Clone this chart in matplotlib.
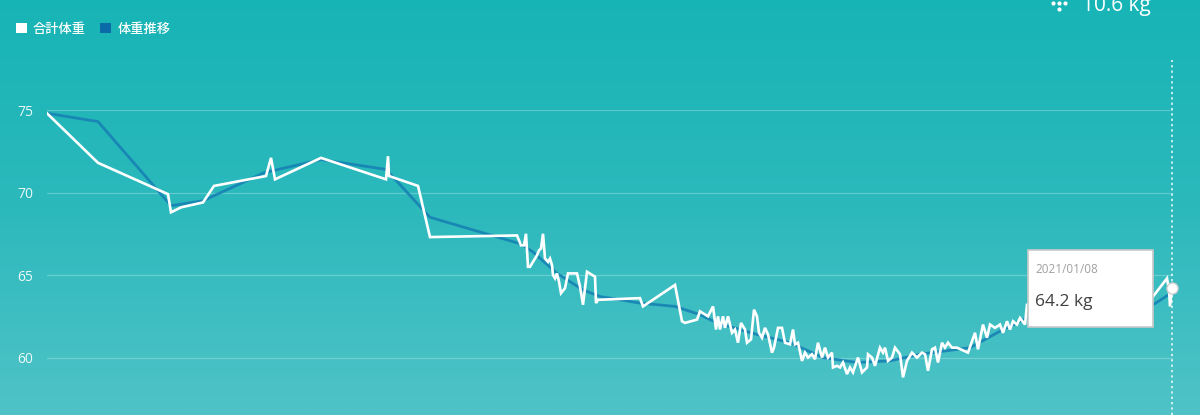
import numpy as np
import matplotlib
matplotlib.use("Agg")
import matplotlib.pyplot as plt
from matplotlib.patches import Patch, Rectangle
from matplotlib.colors import LinearSegmentedColormap

plt.rcParams['font.family'] = ['Noto Sans CJK JP', 'DejaVu Sans']

# ---------------- data ----------------
series_names = ["合計体重", "体重推移"]

# time index (measurement position along the period) and total weight (kg)
weight_t = [0, 51, 121, 124, 134, 156, 167, 219, 224, 228, 274, 339, 341, 342, 371, 383,
            470, 474, 477, 479, 481, 483, 490, 492, 494, 496, 498, 501, 503, 505, 506, 508,
            510, 512, 514, 518, 521, 530, 533, 536, 540, 548, 549, 551, 593, 596, 628, 635,
            638, 650, 653,
            661, 666, 669, 671, 673, 676, 678, 681, 685, 688, 691, 694, 698, 700, 704, 707,
            710, 712, 715, 718, 721, 725, 727, 731, 735, 738, 743, 746, 748, 751, 755, 758,
            761, 765, 768, 771, 775, 778, 781, 785, 786, 790, 793, 796, 800, 803, 806, 811,
            815, 820, 821, 825, 828, 833, 836, 838, 841, 845, 848, 853,
            856, 860, 865, 870, 875, 878, 881, 885, 888, 891, 895, 898, 901, 905, 910, 921,
            928, 931, 936, 940, 943, 948, 953, 956, 960, 963, 966, 970, 973, 978, 980, 1043,
            1106, 1120, 1122, 1123, 1125]
weight_kg = [74.8, 71.8, 69.9, 68.8, 69.1, 69.4, 70.4, 71.0, 72.1, 70.8, 72.1, 70.8, 72.2, 71.0, 70.4, 67.3,
             67.4, 66.8, 66.8, 67.5, 65.5, 65.5, 66.2, 66.5, 66.6, 67.5, 66.0, 65.8, 66.0, 65.6, 65.0, 64.8,
             65.1, 64.6, 63.9, 64.2, 65.1, 65.1, 64.3, 63.2, 65.2, 64.9, 63.3, 63.5, 63.6, 63.1, 64.4, 62.2,
             62.1, 62.3, 62.8,
             62.5, 63.1, 61.7, 62.5, 61.7, 62.5, 61.8, 62.5, 61.5, 61.7, 60.9, 62.1, 61.7, 60.9, 61.1, 62.9,
             62.5, 61.5, 61.2, 61.8, 61.4, 60.3, 60.6, 61.8, 61.8, 60.9, 60.8, 61.7, 60.8, 60.9, 59.8, 60.3,
             60.0, 60.2, 59.9, 60.9, 60.0, 60.6, 60.0, 60.3, 59.4, 59.5, 59.4, 59.7, 59.0, 59.4, 59.1, 60.0,
             59.1, 59.4, 60.2, 60.0, 59.5, 60.6, 60.3, 60.6, 59.8, 60.0, 60.6, 60.2,
             58.8, 59.8, 60.3, 60.0, 60.3, 60.2, 59.2, 60.5, 60.6, 59.7, 60.9, 60.6, 60.9, 60.6, 60.6, 60.3,
             61.5, 60.5, 62.0, 61.2, 62.0, 61.8, 62.0, 61.5, 62.2, 61.7, 62.2, 62.0, 62.4, 62.0, 63.2, 63.5,
             63.7, 64.8, 64.1, 63.1, 64.2]

# weight trend (体重推移)
trend_t = [0, 51, 124, 156, 217, 274, 339, 383, 473, 486, 510, 536, 553, 593, 628, 653, 670,
           710, 743, 776, 810, 843, 873, 923, 956, 980, 1106, 1124]
trend_kg = [74.8, 74.3, 69.2, 69.5, 71.2, 72.0, 71.4, 68.5, 66.9, 66.4, 65.1, 64.1, 63.7, 63.3,
            63.1, 62.6, 62.1, 61.4, 60.9, 60.0, 59.7, 59.8, 60.2, 60.6, 61.7, 62.4, 63.2, 63.9]

y_ticks = [60, 65, 70, 75]
tooltip_date = "2021/01/08"
tooltip_value = "64.2 kg"
header_value = "10.6 kg"

# ---------------- figure ----------------
W, H = 1200, 415
fig = plt.figure(figsize=(W / 100, H / 100), dpi=100)

# gradient background
bg = fig.add_axes([0, 0, 1, 1], zorder=-10)
cmap = LinearSegmentedColormap.from_list("bg", ["#17b4b6", "#2cb9bc", "#4fc3c7"])
grad = np.linspace(0, 1, 256).reshape(-1, 1)
bg.imshow(grad, aspect="auto", cmap=cmap, extent=[0, 1, 0, 1], origin="upper")
bg.set_axis_off()

# main axes : left 47px, right 1173px, top 60px, bottom 415px
ax = fig.add_axes([47 / W, 0, (1173 - 47) / W, (415 - 60) / H])
ax.patch.set_alpha(0)
ax.set_xlim(0, 1126)
ax.set_ylim(56.52, 78.03)
for s in ax.spines.values():
    s.set_visible(False)
ax.set_xticks([])
ax.set_yticks(y_ticks)
ax.tick_params(axis="y", length=0, pad=10, labelsize=10, labelcolor=(1, 1, 1, 0.9))
for lab in ax.get_yticklabels():
    lab.set_family(["Open Sans", "DejaVu Sans"])
ax.grid(axis="y", color="white", alpha=0.25, linewidth=0.9)
ax.set_axisbelow(True)

ax.plot(trend_t, trend_kg, color="#1782b4", lw=2.0, alpha=0.9, solid_joinstyle="miter", zorder=2)
ax.plot(weight_t, weight_kg, color="white", lw=1.9, solid_joinstyle="miter", zorder=3)

# hover indicator
ax.axvline(weight_t[-1], color="white", lw=1.1, ls=(0, (1.5, 2)), alpha=0.95, zorder=4, clip_on=False)
ax.plot([weight_t[-1]], [weight_kg[-1]], marker="o", ms=8, mfc="white", mec="#cfcfcf", mew=1, zorder=5,
        clip_on=False)

# legend
handles = [Patch(facecolor="white", edgecolor="none"), Patch(facecolor="#0b6ba8", edgecolor="none")]
leg = fig.legend(handles, series_names, loc="upper left", bbox_to_anchor=(9 / W, 1 - 15 / H),
                 ncol=2, frameon=False, handlelength=0.85, handleheight=0.85, handletextpad=0.45,
                 columnspacing=1.1, borderpad=0, fontsize=9.5)
for t in leg.get_texts():
    t.set_color("white")
    t.set_fontweight("medium")

# header value (clipped at top, as in the source)
fig.text(1082 / W, 1 - 11 / H, header_value, color="white", fontsize=15, va="baseline", ha="left",
         family=["Open Sans", "DejaVu Sans"])
dots = fig.add_axes([1048 / W, 1 - 14 / H, 22 / W, 14 / H])
dots.set_xlim(0, 22)
dots.set_ylim(14, 0)
dots.set_axis_off()
dots.scatter([5, 11, 17, 11], [3, 3, 3, 9], s=9, color="white", linewidths=0)

# tooltip
x0, y0, x1, y1 = 1028, 250, 1153, 327
rect = Rectangle((x0 / W, 1 - y1 / H), (x1 - x0) / W, (y1 - y0) / H, transform=fig.transFigure,
                 facecolor="white", edgecolor="#c8c8c8", lw=1.2, zorder=20)
fig.patches.append(rect)
fig.text(1035 / W, 1 - 269 / H, tooltip_date, color="#a0a0a0", fontsize=8.5, va="center", ha="left",
         zorder=21, family=["Open Sans", "DejaVu Sans"])
fig.text(1035 / W, 1 - 302 / H, tooltip_value, color="#404040", fontsize=12.5, va="center", ha="left",
         zorder=21, family=["Open Sans", "DejaVu Sans"])

fig.savefig("out.png", dpi=100)
